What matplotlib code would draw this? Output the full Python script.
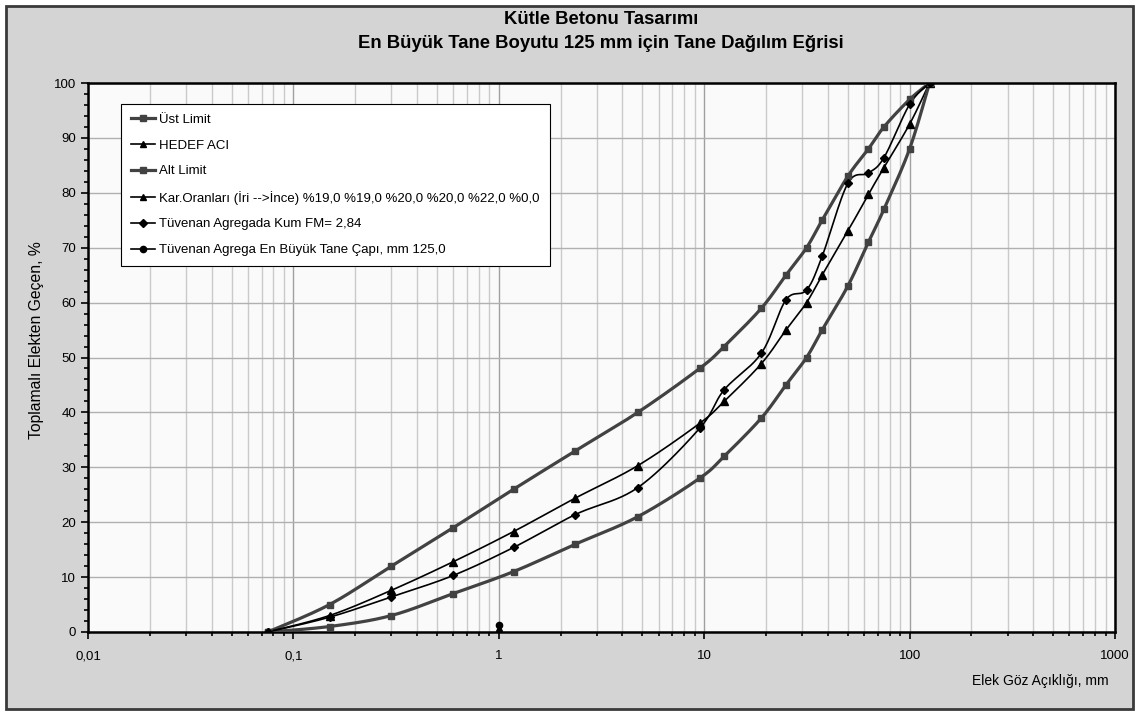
import numpy as np
import matplotlib

matplotlib.use("Agg")
import matplotlib.pyplot as plt
from matplotlib import font_manager
from matplotlib.patches import Rectangle
from matplotlib.ticker import FixedLocator, FixedFormatter, MultipleLocator


def _has_font(name):
    try:
        font_manager.findfont(name, fallback_to_default=False)
        return True
    except Exception:
        return False


NARROW = "Liberation Sans Narrow" if _has_font("Liberation Sans Narrow") else "Liberation Sans"
REGULAR = "Liberation Sans"

# sieve openings (mm) and passing percentages
sieve = [0.075, 0.15, 0.3, 0.6, 1.18, 2.36, 4.75, 9.5, 12.5, 19, 25, 31.5, 37.5, 50, 63, 75, 100, 125]
ust_limit = [0, 5, 12, 19, 26, 33, 40, 48, 52, 59, 65, 70, 75, 83, 88, 92, 97, 100]
alt_limit = [0, 1, 3, 7, 11, 16, 21, 28, 32, 39, 45, 50, 55, 63, 71, 77, 88, 100]
hedef_aci = [0, 3.0, 7.6, 12.8, 18.3, 24.4, 30.3, 38.0, 42.0, 48.9, 55.0, 60.0, 65.0, 73.0, 79.7, 84.6, 92.5, 100]
tuvenan_kum = [0, 2.7, 6.4, 10.3, 15.4, 21.4, 26.3, 37.1, 44.1, 50.8, 60.5, 62.3, 68.4, 81.7, 83.6, 86.4, 96.1, 100]

# single points sitting at 1 mm
kar_x, kar_y = [1.0], [0.7]
agrega_x, agrega_y = [1.0], [1.2]

labels = [
    "Üst Limit",
    "HEDEF ACI",
    "Alt Limit",
    "Kar.Oranları (İri -->İnce) %19,0 %19,0 %20,0 %20,0 %22,0 %0,0",
    "Tüvenan Agregada Kum FM= 2,84",
    "Tüvenan Agrega En Büyük Tane Çapı, mm 125,0",
]

x_ticks = [0.01, 0.1, 1, 10, 100, 1000]
x_ticklabels = ["0,01", "0,1", "1", "10", "100", "1000"]


def smooth(xs, ys, n=24):
    # Excel-style smoothed line (Bezier through the points, in log-x space)
    pts = np.column_stack([np.log10(xs), np.asarray(ys, dtype=float)])
    P = np.vstack([pts[0], pts, pts[-1]])
    t = np.linspace(0, 1, n)[:, None]
    out = []
    for i in range(1, len(P) - 2):
        p0, p1, p2, p3 = P[i - 1], P[i], P[i + 1], P[i + 2]
        c1 = p1 + (p2 - p0) / 6
        c2 = p2 - (p3 - p1) / 6
        seg = (1 - t) ** 3 * p1 + 3 * (1 - t) ** 2 * t * c1 + 3 * (1 - t) * t ** 2 * c2 + t ** 3 * p2
        out.append(seg if not out else seg[1:])
    out = np.vstack(out)
    return 10 ** out[:, 0], out[:, 1]


GREY = "#424242"
BLACK = "#000000"

W, H = 1139, 715
fig = plt.figure(figsize=(W / 100, H / 100), dpi=100)
fig.patch.set_facecolor("white")
fig.patches.append(Rectangle((6 / W, 6 / H), (W - 12) / W, (H - 12) / H, transform=fig.transFigure,
                             facecolor="#d4d4d4", edgecolor="#3a3a3a", linewidth=2, zorder=-10))

ax = fig.add_axes([88 / W, 1 - 632 / H, (1115 - 88) / W, (632 - 83) / H])
ax.set_zorder(5)
ax.set_facecolor("#fafafa")
ax.set_xscale("log")
ax.set_xlim(0.01, 1000)
ax.set_ylim(0, 100)

ax.xaxis.set_major_locator(FixedLocator(x_ticks))
ax.xaxis.set_major_formatter(FixedFormatter(x_ticklabels))
ax.yaxis.set_major_locator(MultipleLocator(10))
ax.yaxis.set_minor_locator(MultipleLocator(2))
ax.tick_params(which="both", direction="out", color="black", width=1.2)
ax.tick_params(which="major", length=5, labelsize=9.5)
ax.tick_params(which="minor", length=3)
for lab in ax.get_xticklabels() + ax.get_yticklabels():
    lab.set_fontfamily(REGULAR)
ax.tick_params(axis="x", pad=8)

ax.grid(True, axis="x", which="major", color="#a0a0a0", linewidth=1)
ax.grid(True, axis="x", which="minor", color="#cacaca", linewidth=1)
ax.grid(True, axis="y", which="major", color="#b0b0b0", linewidth=1)
ax.set_axisbelow(True)
for s in ax.spines.values():
    s.set_color("black")
    s.set_linewidth(1.8)

# grading curves
sx, sy = smooth(sieve, ust_limit)
ax.plot(sx, sy, color=GREY, lw=2.3, zorder=3)
ax.plot(sieve, ust_limit, ls="none", marker="s", ms=5, color=GREY, zorder=4)
h_ust, = ax.plot([], [], color=GREY, lw=2.3, marker="s", ms=5)

sx, sy = smooth(sieve, hedef_aci)
ax.plot(sx, sy, color=BLACK, lw=1.2, zorder=3)
ax.plot(sieve, hedef_aci, ls="none", marker="^", ms=5.5, color=BLACK, zorder=4)
h_hedef, = ax.plot([], [], color=BLACK, lw=1.2, marker="^", ms=5)

sx, sy = smooth(sieve, alt_limit)
ax.plot(sx, sy, color=GREY, lw=2.3, zorder=3)
ax.plot(sieve, alt_limit, ls="none", marker="s", ms=5, color=GREY, zorder=4)
h_alt, = ax.plot([], [], color=GREY, lw=2.3, marker="s", ms=5)

ax.plot(kar_x, kar_y, ls="none", marker="^", ms=5, color=BLACK, zorder=4)
h_kar, = ax.plot([], [], color=BLACK, lw=1.2, marker="^", ms=5)

sx, sy = smooth(sieve, tuvenan_kum)
ax.plot(sx, sy, color=BLACK, lw=1.2, zorder=3)
ax.plot(sieve, tuvenan_kum, ls="none", marker="D", ms=4, color=BLACK, zorder=4)
h_kum, = ax.plot([], [], color=BLACK, lw=1.2, marker="D", ms=4)

ax.plot(agrega_x, agrega_y, ls="none", marker="o", ms=4.5, color=BLACK, zorder=4)
h_agr, = ax.plot([], [], color=BLACK, lw=1.2, marker="o", ms=4.5)

handles = [h_ust, h_hedef, h_alt, h_kar, h_kum, h_agr]

leg = ax.legend(handles, labels, loc="upper left", bbox_to_anchor=(0.032, 0.962), borderaxespad=0,
                prop={"family": NARROW, "size": 9.5}, frameon=True, fancybox=False,
                edgecolor="black", framealpha=1, handlelength=1.8, handletextpad=0.35,
                labelspacing=1.02, borderpad=0.75)
leg.get_frame().set_linewidth(0.8)
leg.get_frame().set_facecolor("white")

fig.text(601 / W, 1 - 20 / H, "Kütle Betonu Tasarımı", ha="center", va="center",
         fontsize=13.3, fontweight="bold", family=NARROW)
fig.text(601 / W, 1 - 44 / H, "En Büyük Tane Boyutu 125 mm için Tane Dağılım Eğrisi", ha="center",
         va="center", fontsize=13.3, fontweight="bold", family=NARROW)
fig.text(37 / W, 1 - 340 / H, "Toplamalı Elekten Geçen, %", rotation=90, ha="center", va="center",
         fontsize=11.3, family=NARROW)
fig.text(1040 / W, 1 - 681 / H, "Elek Göz Açıklığı, mm", ha="center", va="center",
         fontsize=10, family=NARROW)

fig.savefig("out.png", dpi=100)
